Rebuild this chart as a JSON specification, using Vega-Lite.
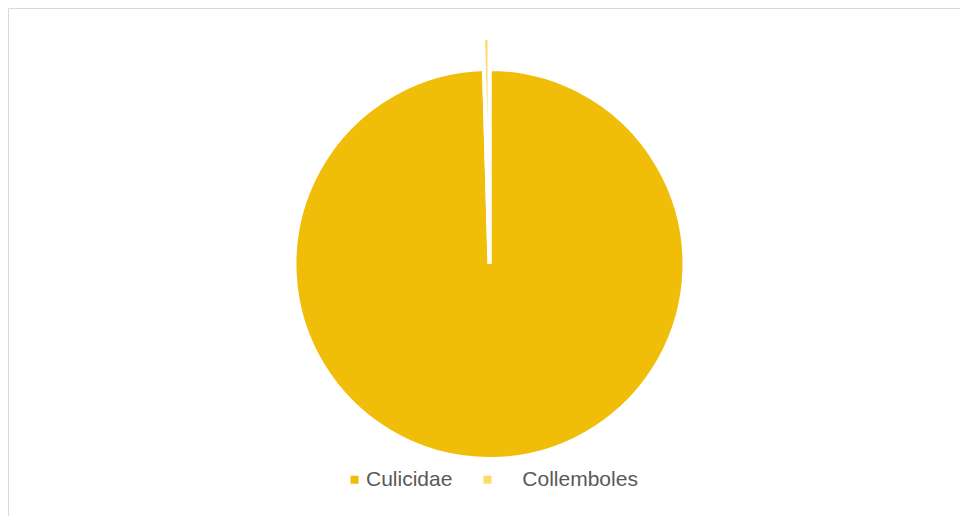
{
  "$schema": "https://vega.github.io/schema/vega-lite/v6.json",
  "width": 952,
  "height": 508,
  "autosize": "none",
  "padding": {"left": 8, "top": 8, "right": 0, "bottom": 0},
  "background": "white",
  "view": {"stroke": "#D9D9D9", "strokeWidth": 1, "fill": "white"},
  "data": {
    "values": [
      {"taxon": "Culicidae", "n": 222, "rang": 1},
      {"taxon": "Collemboles", "n": 1, "rang": 2}
    ]
  },
  "transform": [
    {"stack": "n", "groupby": [], "sort": [{"field": "rang"}], "as": ["t0", "t1"]}
  ],
  "encoding": {
    "theta": {"field": "t1", "type": "quantitative", "scale": {"zero": true}},
    "theta2": {"field": "t0"},
    "color": {
      "field": "taxon",
      "type": "nominal",
      "scale": {"domain": ["Culicidae", "Collemboles"], "range": ["#F0BD08", "#FFD966"]},
      "legend": {
        "title": null,
        "orient": "none",
        "direction": "horizontal",
        "legendX": 336,
        "legendY": 461,
        "padding": 0,
        "symbolType": "square",
        "symbolSize": 64,
        "symbolStrokeWidth": 0,
        "symbolOpacity": 1,
        "labelOffset": 1,
        "columnPadding": 24,
        "labelFont": "Liberation Sans",
        "labelFontSize": 21,
        "labelColor": "#595959",
        "labelExpr": "datum.value == 'Collemboles' ? '\u200b\u00a0\u00a0\u00a0\u00a0Collemboles' : datum.label"
      }
    }
  },
  "layer": [
    {
      "transform": [{"filter": "datum.taxon == 'Culicidae'"}],
      "mark": {"type": "arc", "radius": 195, "stroke": "white", "strokeWidth": 4, "x": {"expr": "width/2 + 5.5"}, "y": {"expr": "height/2 + 2"}}
    },
    {
      "transform": [{"filter": "datum.taxon == 'Collemboles'"}],
      "mark": {"type": "arc", "radius": 226, "radius2": 0, "stroke": "white", "strokeWidth": 4, "x": {"expr": "width/2 + 5.5"}, "y": {"expr": "height/2 + 2"}}
    }
  ]
}
